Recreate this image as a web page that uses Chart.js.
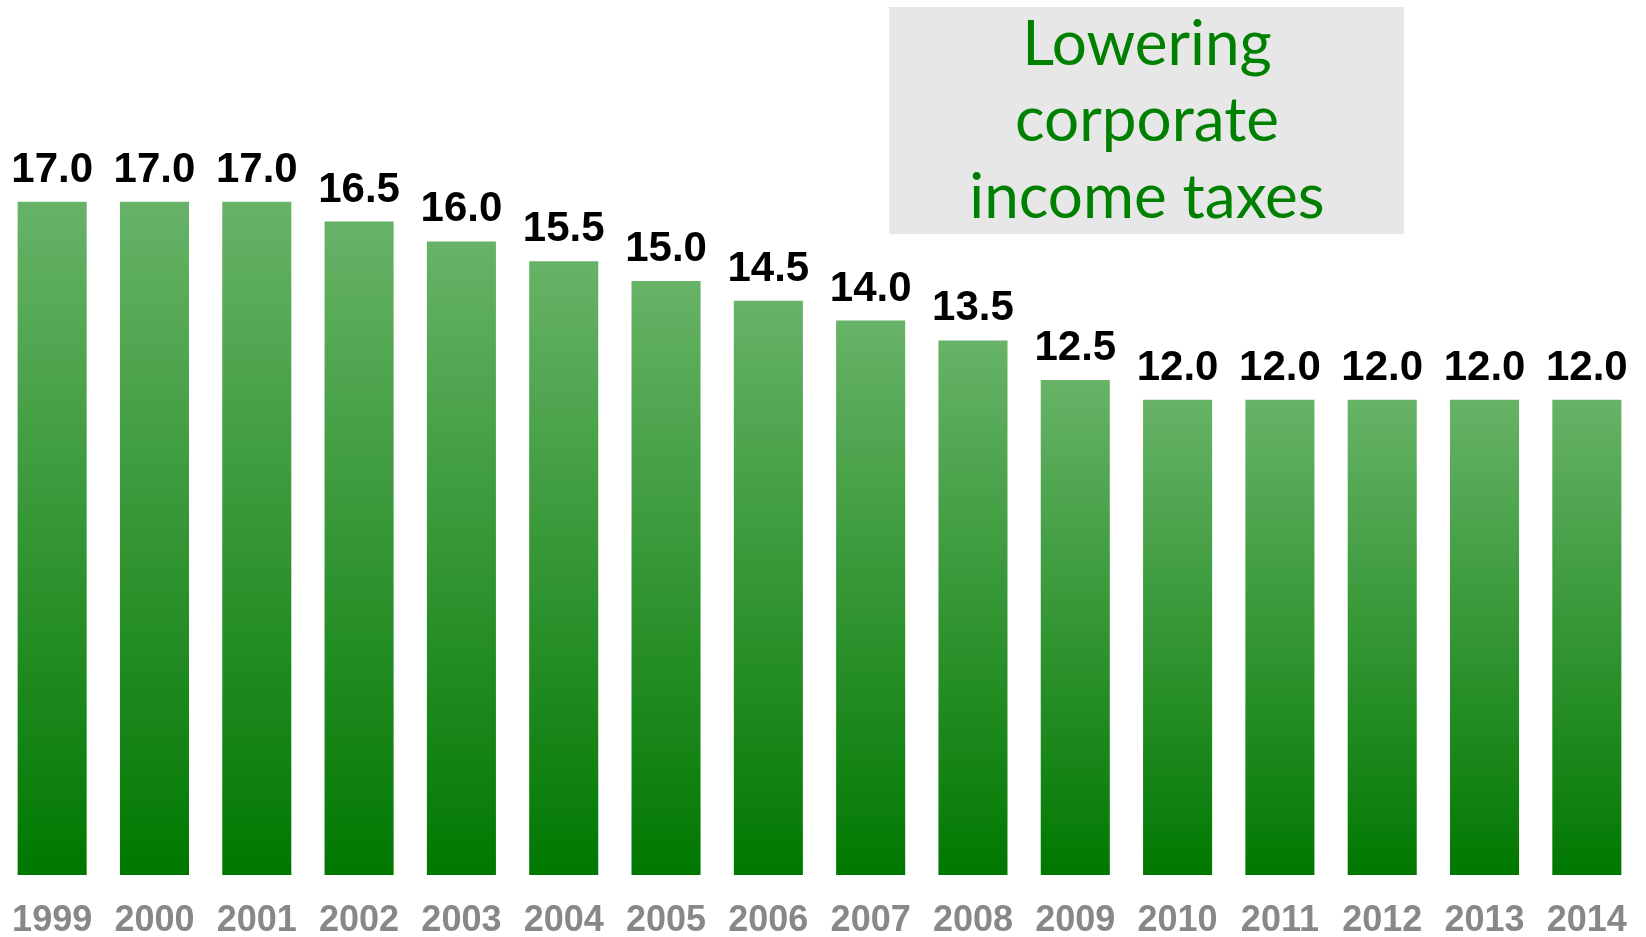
<!DOCTYPE html>
<html>
<head>
<meta charset="utf-8">
<script src="https://cdn.jsdelivr.net/npm/chart.js@4/dist/chart.umd.min.js"></script>
<style>
  html, body { margin: 0; padding: 0; background: #ffffff; }
  #wrap { width: 1646px; height: 937px; position: relative; }
</style>
</head>
<body>
<div id="wrap"><canvas id="chart" width="1646" height="937"></canvas></div>
<script>
// Corporate income tax rate (%) by year
const years = ['1999', '2000', '2001', '2002', '2003', '2004', '2005', '2006',
               '2007', '2008', '2009', '2010', '2011', '2012', '2013', '2014'];
const rates = [17.0, 17.0, 17.0, 16.5, 16.0, 15.5, 15.0, 14.5,
               14.0, 13.5, 12.5, 12.0, 12.0, 12.0, 12.0, 12.0];
const titleLines = ['Lowering', 'corporate', 'income taxes'];

// Each bar fades from light green at its top to deep green at the baseline
function barGradient(c) {
  const chart = c.chart;
  if (!chart.chartArea || c.type !== 'data') return '#67b367';
  const y = chart.scales.y;
  const top = y.getPixelForValue(c.raw);
  const bottom = y.getPixelForValue(0);
  const g = chart.ctx.createLinearGradient(0, top, 0, bottom);
  g.addColorStop(0, '#67b367');
  g.addColorStop(1, '#007800');
  return g;
}

// Value labels above every bar
const valueLabels = {
  id: 'valueLabels',
  afterDatasetsDraw(chart) {
    const ctx = chart.ctx;
    const meta = chart.getDatasetMeta(0);
    ctx.save();
    ctx.font = 'bold 42px "Liberation Sans", Arial, sans-serif';
    ctx.fillStyle = '#000000';
    ctx.textAlign = 'center';
    ctx.textBaseline = 'alphabetic';
    meta.data.forEach((bar, i) => {
      ctx.fillText(rates[i].toFixed(1), bar.x, bar.y - 20);
    });
    ctx.restore();
  }
};

// Grey caption box in the upper right
const captionBox = {
  id: 'captionBox',
  afterDraw(chart) {
    const ctx = chart.ctx;
    ctx.save();
    ctx.fillStyle = '#e7e7e7';
    ctx.fillRect(889, 7, 515, 227);
    ctx.font = '62px Lato, "Open Sans", sans-serif';
    ctx.fillStyle = '#008000';
    ctx.textAlign = 'center';
    ctx.textBaseline = 'alphabetic';
    const baselines = [65, 141, 218];
    titleLines.forEach((t, i) => ctx.fillText(t, 1147, baselines[i]));
    ctx.restore();
  }
};

new Chart(document.getElementById('chart'), {
  type: 'bar',
  data: {
    labels: years,
    datasets: [{
      data: rates,
      backgroundColor: barGradient,
      borderWidth: 0,
      barPercentage: 0.675,
      categoryPercentage: 1.0
    }]
  },
  options: {
    responsive: false,
    animation: false,
    layout: { padding: { left: 1, right: 8, top: 83, bottom: 0 } },
    plugins: { legend: { display: false }, tooltip: { enabled: false } },
    scales: {
      x: {
        grid: { display: false, drawTicks: false },
        border: { display: false },
        afterFit(scale) {
          scale.height = 62;
          scale.paddingLeft = 0;
          scale.paddingRight = 0;
        },
        ticks: {
          padding: 24,
          color: '#888888',
          font: { family: '"Liberation Sans", Arial, sans-serif', size: 36, weight: 'bold' }
        }
      },
      y: {
        display: false,
        min: 0,
        max: 20
      }
    }
  },
  plugins: [valueLabels, captionBox]
});
</script>
</body>
</html>
